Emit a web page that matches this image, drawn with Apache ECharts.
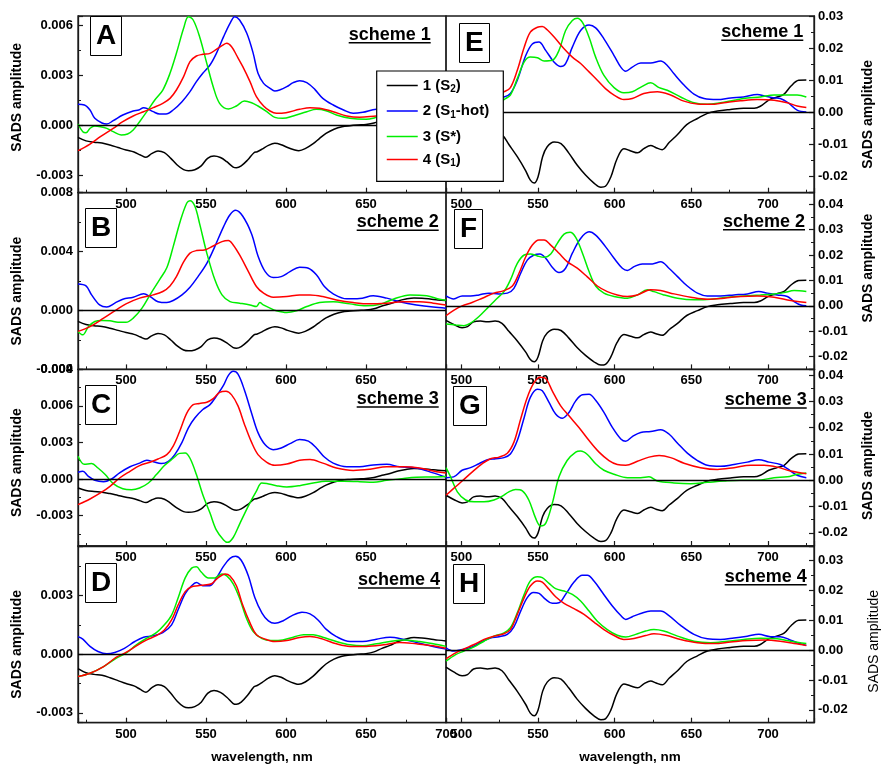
<!DOCTYPE html>
<html>
<head>
<meta charset="utf-8">
<script src="https://cdn.jsdelivr.net/npm/echarts@6/dist/echarts.min.js"></script>
<style>
  html, body { margin: 0; padding: 0; background: #fff; }
  #chart { width: 885px; height: 765px; }
</style>
</head>
<body>
<div id="chart"></div>
<script>
// ---------- series names and tick labels ----------
const seriesNames = ['1 (S2)', '2 (S1-hot)', '3 (S*)', '4 (S1)'];
const legendText = {
  '1 (S2)': '{m|1 (S}{s|2}{m|)}',
  '2 (S1-hot)': '{m|2 (S}{s|1}{m|-hot)}',
  '3 (S*)': '{m|3 (S*)}',
  '4 (S1)': '{m|4 (S}{s|1}{m|)}'
};
const schemeNames = ['scheme 1', 'scheme 2', 'scheme 3', 'scheme 4'];
const panelTags = ['A', 'B', 'C', 'D', 'E', 'F', 'G', 'H'];

const xTicksLeft = [500, 550, 600, 650];
const xTicksLeftBottom = [500, 550, 600, 650, 700];
const xTicksRight = [500, 550, 600, 650, 700];

const yTicksA = [-0.003, 0, 0.003, 0.006];
const yTicksB = [-0.004, 0, 0.004, 0.008];
const yTicksC = [-0.003, 0, 0.003, 0.006, 0.009];
const yTicksD = [-0.003, 0, 0.003];
const yTicksE = [-0.02, -0.01, 0, 0.01, 0.02, 0.03];
const yTicksF = [-0.02, -0.01, 0, 0.01, 0.02, 0.03, 0.04];
const yTicksG = [-0.02, -0.01, 0, 0.01, 0.02, 0.03, 0.04];
const yTicksH = [-0.02, -0.01, 0, 0.01, 0.02, 0.03];

// ---------- SADS spectra: [wavelength nm, amplitude] ----------
// S2 component, shared by schemes 1-4 (left column)
const leftS2 = [[470,-0.00074],[475,-0.00095],[480,-0.00103],[485,-0.00108],[490,-0.0012],[495,-0.00135],[500,-0.0015],[505,-0.00162],[509,-0.0018],[512.5,-0.00194],[516,-0.00172],[520,-0.00156],[524,-0.00166],[528,-0.002],[532,-0.0024],[536,-0.00268],[539,-0.00274],[543,-0.00268],[547,-0.00245],[551,-0.002],[555,-0.00186],[559,-0.00195],[563,-0.0022],[567,-0.00252],[569,-0.00256],[572,-0.00245],[576,-0.0021],[580,-0.00166],[582,-0.0016],[585,-0.00145],[589,-0.00122],[593,-0.0011],[597,-0.00118],[601,-0.00135],[605,-0.00148],[608,-0.00154],[612,-0.00142],[617,-0.00112],[621,-0.0008],[625,-0.0005],[630,-0.00025],[635,-0.0001],[640,-0.00004],[645,0],[650,0.00003],[655,0.00012],[660,0.0003],[665,0.00045],[670,0.00065],[675,0.00078],[680,0.00085],[685,0.00083],[690,0.00078],[695,0.00072],[700,0.00068]];

const hotA = [[470,0.00124],[474,0.0012],[477.5,0.0009],[480.5,0.0004],[485,0.00012],[488,0.00006],[492,0.00026],[498,0.0006],[504.5,0.00084],[508,0.0009],[511,0.00104],[513,0.001],[517,0.0008],[521,0.00066],[525,0.00066],[529.5,0.0009],[535,0.0014],[540,0.002],[544,0.0026],[548,0.0031],[552.5,0.0036],[556.5,0.0043],[561,0.0053],[565,0.0061],[568,0.0065],[571,0.0063],[575.5,0.0055],[579.5,0.0043],[582.5,0.0031],[586,0.0025],[590,0.0022],[593,0.00204],[596,0.0021],[600.5,0.0023],[604.5,0.00254],[608.5,0.00266],[613,0.00254],[618,0.00214],[623,0.0016],[629.5,0.0012],[636,0.0009],[642,0.0007],[648,0.00076],[656.5,0.00094],[664,0.0009],[672,0.0007],[682,0.00045],[692,0.0003],[700,0.0002]];
const starA = [[470,0.00006],[473,-0.0004],[475,-0.00046],[477.5,-0.0002],[480.5,-0.00006],[484,-0.0001],[488,-0.0002],[492,-0.0004],[497,-0.0006],[501,-0.00054],[504.5,-0.0003],[508.5,0.0002],[513,0.0008],[518,0.0015],[523,0.0021],[527.5,0.0031],[531.5,0.0043],[536,0.0058],[539,0.0065],[542,0.0063],[546,0.0053],[550.5,0.0037],[554.5,0.0023],[558.5,0.0013],[564,0.00096],[569,0.00114],[574,0.00144],[578.5,0.00134],[582.5,0.00114],[588,0.0008],[593,0.00046],[598,0.0004],[604.5,0.00054],[613,0.0008],[619,0.00094],[625,0.00086],[631.5,0.0006],[640,0.0004],[650,0.00034],[656.5,0.00046],[665,0.0007],[677,0.001],[688,0.00095],[700,0.0007]];
const s1A = [[470,-0.00154],[477.5,-0.00114],[484,-0.0007],[492,-0.0002],[498,0.0002],[504.5,0.00054],[511,0.0008],[517,0.00104],[523,0.0013],[527.5,0.0016],[531.5,0.0021],[536,0.0029],[540,0.0038],[544,0.00414],[548,0.00424],[552.5,0.0043],[556.5,0.00454],[560,0.00476],[563,0.0049],[566,0.0047],[569,0.0042],[573,0.0035],[577.5,0.0026],[581.5,0.0017],[586,0.00114],[590,0.00084],[594,0.0007],[600,0.00074],[608.5,0.00094],[615,0.00104],[621,0.001],[629.5,0.0008],[638,0.00054],[646,0.00046],[656.5,0.00054],[667,0.0006],[680,0.0006],[690,0.0005],[700,0.0004]];

const hotB = [[470,0.0018],[475,0.00167],[478.5,0.00106],[483.5,0.00038],[488,0.00023],[493,0.0005],[498,0.00077],[504.5,0.0009],[511,0.00113],[515,0.00095],[520,0.0006],[525.5,0.00054],[529.5,0.00068],[535,0.00106],[540,0.00158],[545,0.0023],[550.5,0.0032],[555.5,0.00434],[561,0.0057],[565,0.0065],[568.5,0.0068],[573,0.0064],[578.5,0.0052],[582.5,0.0037],[587,0.00264],[592,0.00224],[597,0.0023],[602.5,0.00264],[608.5,0.00294],[614,0.00287],[619,0.00242],[624,0.00163],[629.5,0.00113],[638,0.00079],[646,0.00081],[654.5,0.001],[663,0.00084],[671,0.0006],[681.5,0.00038],[692,0.00023],[700,0.00016]];
const starB = [[470,-0.00142],[473,-0.00165],[476.5,-0.0011],[480.5,-0.00075],[485,-0.00068],[490,-0.0007],[495,-0.0008],[500,-0.0008],[504.5,-0.00052],[510,0.00016],[515,0.00106],[521,0.0021],[525.5,0.0029],[529.5,0.00434],[534,0.0061],[538,0.0073],[540,0.00746],[543,0.0071],[546,0.0059],[550.5,0.0039],[555.5,0.0021],[560,0.00106],[565,0.0006],[571,0.0005],[577.5,0.00038],[581.5,0.00027],[583.7,0.00054],[585.8,0.00038],[590,0.00016],[594,-0.00002],[600.5,-0.00014],[606.5,-0.00002],[613,0.00027],[621,0.00054],[629.5,0.0006],[640,0.00045],[650,0.00032],[659,0.00043],[667,0.00077],[677.5,0.00106],[688,0.001],[696,0.00077],[700,0.0007]];
const s1B = [[470,-0.00142],[477.5,-0.0011],[486,-0.00052],[494,0.00005],[500,0.00045],[508.5,0.00084],[517,0.00106],[523,0.00129],[527.5,0.00167],[531.5,0.0023],[536,0.0033],[540,0.0039],[544,0.00407],[549,0.00411],[554.5,0.00438],[560,0.00468],[564,0.00475],[567,0.00445],[571,0.00377],[576.5,0.00264],[581.5,0.00163],[586,0.00118],[592,0.0009],[600.5,0.00095],[608.5,0.00106],[615,0.00106],[623,0.00095],[631.5,0.00072],[642,0.00054],[652.5,0.00045],[663,0.0005],[673,0.0006],[683.5,0.0006],[692,0.0005],[700,0.00038]];

const hotC = [[470,0.00055],[473,0.00063],[476.5,0.00022],[480.5,-0.00011],[486,-0.00022],[491,0],[496,0.0005],[502.5,0.001],[508.5,0.0013],[513,0.00153],[517,0.00142],[522,0.00126],[526.5,0.00145],[530.5,0.002],[535,0.003],[539,0.0042],[543,0.005],[548,0.0057],[552.5,0.0061],[556.5,0.0068],[561,0.0077],[564,0.0085],[567,0.00883],[570,0.0086],[574,0.0073],[578.5,0.0054],[582.5,0.0038],[587,0.0028],[592,0.0024],[597,0.00254],[602.5,0.0029],[608.5,0.00323],[614,0.0031],[619,0.00254],[624,0.0018],[629.5,0.0013],[638,0.001],[646,0.001],[654.5,0.00115],[663,0.0012],[671,0.001],[681.5,0.0009],[692,0.0005],[700,0.00015]];
const starC = [[470,0.00186],[474,0.0012],[478.5,0.00126],[482.5,0.0009],[487,0.00036],[492,-0.00038],[498,-0.0008],[503.5,-0.00088],[508.5,-0.00074],[514,-0.00033],[519,0.00036],[524,0.0011],[529.5,0.0017],[533.5,0.0021],[537,0.00213],[540,0.0017],[544,0.00036],[548,-0.0013],[552.5,-0.0028],[556.5,-0.0042],[561,-0.005],[563.5,-0.0052],[567,-0.0048],[571,-0.0037],[576.5,-0.0022],[581.5,-0.001],[584.8,-0.00033],[588,-0.00038],[594,-0.00055],[600.5,-0.00066],[608.5,-0.00055],[617,-0.00033],[625,-0.00019],[636,-0.00019],[646,-0.00022],[654.5,-0.00027],[663,-0.00011],[671,0],[681.5,0.00014],[692,0.00016],[700,0.0002]];
const s1C = [[470,-0.0021],[477.5,-0.00164],[484,-0.00115],[490,-0.0006],[496,0.00008],[502.5,0.00063],[508.5,0.0011],[515,0.00137],[520,0.00164],[525.5,0.002],[529.5,0.0027],[533.5,0.0039],[538,0.0054],[542,0.0061],[546,0.0062],[550.5,0.0063],[554.5,0.0066],[558.5,0.0071],[562.5,0.0072],[566,0.0069],[570,0.006],[574,0.0045],[578.5,0.003],[582.5,0.002],[588,0.00137],[593,0.00112],[600.5,0.00123],[608.5,0.00153],[615,0.00159],[623,0.0013],[631.5,0.0009],[642,0.0007],[652.5,0.0008],[663,0.001],[673,0.001],[683.5,0.0009],[694,0.0006],[700,0.0005]];

const hotD = [[470,0.0009],[473,0.00077],[477.5,0.0004],[482.5,0.00014],[488,0.00002],[493,0.00009],[499,0.0003],[505.5,0.00065],[511,0.00087],[517,0.00094],[523,0.0011],[528.5,0.0015],[532.5,0.00226],[537,0.0031],[541,0.0035],[544,0.00366],[548,0.0035],[552.5,0.0035],[556.5,0.0039],[561,0.0045],[565,0.0049],[568.5,0.005],[572,0.0048],[576.5,0.004],[580.5,0.0029],[585,0.0021],[589,0.0017],[593,0.00158],[598,0.0017],[603.5,0.00196],[610,0.00214],[615,0.00206],[620,0.00175],[625,0.00128],[631.5,0.0009],[640,0.00065],[648,0.00065],[656.5,0.00077],[665,0.00087],[673,0.00077],[683.5,0.00056],[694,0.00036],[700,0.00026]];
const starD = [[470,-0.00114],[477.5,-0.00097],[486,-0.00063],[494,-0.0002],[500,0.00005],[506.5,0.00048],[513,0.00082],[519,0.0011],[524,0.0015],[528.5,0.002],[532.5,0.00286],[537,0.0039],[541,0.0044],[544,0.00447],[547,0.0042],[551.5,0.0039],[555.5,0.0039],[560,0.0041],[563,0.004],[567,0.0036],[571,0.00286],[575.5,0.0018],[579.5,0.00116],[585,0.0008],[591,0.0007],[598,0.00073],[604.5,0.00087],[611,0.001],[617,0.001],[623,0.00087],[631.5,0.00065],[640,0.00048],[648,0.00043],[656.5,0.00053],[665,0.00065],[673,0.00073],[683.5,0.00065],[692,0.00053],[700,0.0004]];
const s1D = [[470,-0.00114],[477.5,-0.00097],[486,-0.00063],[494,-0.00015],[500,0.00009],[506.5,0.00043],[513,0.00073],[519,0.00095],[524,0.00124],[528.5,0.00175],[532.5,0.0025],[537,0.0032],[541,0.00345],[545,0.0035],[549,0.00354],[553.5,0.0036],[557.5,0.0039],[562,0.0041],[565,0.004],[569,0.0035],[573,0.0025],[577.5,0.0016],[581.5,0.001],[587,0.00077],[593,0.00065],[600.5,0.0007],[608.5,0.00085],[615,0.0009],[623,0.00077],[631.5,0.00053],[640,0.0004],[650,0.0004],[661,0.00048],[671,0.0006],[681.5,0.00053],[692,0.00043],[700,0.0003]];

// S2 component, shared by schemes 1-4 (right column)
const rightS2 = [[490,-0.0057],[495,-0.0073],[500.5,-0.0086],[504,-0.0082],[508,-0.0063],[512.5,-0.006],[517,-0.0063],[522,-0.006],[526.5,-0.0069],[531,-0.01],[536.5,-0.0138],[542,-0.0182],[545,-0.0211],[547.5,-0.022],[550,-0.0201],[553,-0.0138],[556,-0.0107],[560.5,-0.0092],[565,-0.0097],[570,-0.0126],[575.5,-0.0164],[581,-0.0195],[586.5,-0.022],[591,-0.0233],[594,-0.023],[597.5,-0.0201],[601.5,-0.0145],[606,-0.0113],[610.5,-0.012],[615,-0.0126],[619,-0.0113],[623.5,-0.0103],[627,-0.011],[631,-0.0116],[635.5,-0.0094],[641,-0.0069],[647,-0.0038],[654,-0.0019],[660.5,-0.0003],[667,0.0004],[675.5,0.0009],[684,0.0013],[691,0.0013],[695,0.0019],[700.5,0.0038],[706,0.0048],[710.5,0.0057],[715,0.0082],[720,0.01],[725,0.0101]];

const hotE = [[490,0.004],[500,0.0035],[510,0.004],[520,0.0045],[527.8,0.0048],[532,0.0059],[536.5,0.01],[542,0.0177],[546.3,0.0213],[550.6,0.0219],[555,0.0193],[560.4,0.0157],[564.8,0.0143],[568,0.0152],[572.4,0.0203],[577.8,0.0255],[583.3,0.0272],[587.6,0.0263],[593,0.0229],[599.6,0.0177],[604,0.0141],[607.2,0.0128],[611.5,0.0141],[617,0.0154],[623.5,0.0154],[630,0.016],[634.3,0.0146],[638.7,0.012],[645.2,0.0085],[651.7,0.0057],[658.3,0.0043],[667,0.004],[675.6,0.0045],[684,0.0048],[693,0.0056],[698.5,0.005],[704,0.0045],[708,0.0043],[713.7,0.0028],[719,0.0007],[725,0.0001]];
const starE = [[490,-0.006],[500,-0.007],[510,-0.003],[520,0.001],[527.8,0.004],[532,0.0054],[536.5,0.0105],[541,0.0157],[545,0.0172],[549.6,0.017],[554,0.016],[559.3,0.0162],[563.7,0.0193],[568,0.0255],[572.4,0.0286],[575.7,0.0293],[579,0.028],[583.3,0.0234],[587.6,0.0172],[593,0.0115],[599.6,0.0077],[606,0.0061],[611.5,0.0064],[618,0.0081],[623.5,0.0092],[629,0.0077],[634.3,0.0069],[643,0.0048],[651.7,0.003],[660.4,0.0025],[669,0.003],[678,0.0038],[686.5,0.0045],[695,0.0048],[704,0.0054],[712.6,0.0054],[719,0.0054],[725,0.0048]];
const s1E = [[490,-0.003],[500,0],[510,0.003],[520,0.005],[527.8,0.0064],[532,0.0077],[536.5,0.0131],[541,0.0203],[545,0.025],[549.6,0.0265],[552.8,0.0267],[556,0.0257],[561.5,0.0229],[567,0.0198],[572.4,0.0172],[577.8,0.0152],[583.3,0.0126],[588.7,0.01],[594,0.0074],[599.6,0.0054],[606,0.004],[611.5,0.0043],[619,0.0059],[627.8,0.0064],[636.5,0.0054],[645.2,0.0035],[654,0.0026],[662.6,0.0025],[671.3,0.003],[682,0.0036],[693,0.004],[704,0.0038],[712.6,0.003],[719,0.002],[725,0.0015]];

const hotF = [[490,0.0039],[495,0.0027],[500.5,0.0039],[506,0.0039],[511.5,0.0043],[518,0.005],[524.5,0.0047],[530,0.005],[534.3,0.0069],[538.7,0.0128],[543,0.018],[547.4,0.02],[551.3,0.0204],[555,0.0187],[559.3,0.0152],[563.7,0.0131],[568,0.0148],[572.4,0.0207],[577.8,0.0265],[583.3,0.0291],[587.6,0.0278],[594,0.0233],[599.6,0.0187],[605,0.0148],[608.3,0.0139],[612.6,0.0154],[618,0.0165],[624.6,0.0165],[630,0.0173],[635.4,0.0148],[641,0.0115],[647.4,0.0078],[654,0.005],[660.4,0.0039],[669,0.0039],[677.8,0.0043],[686.5,0.0047],[694,0.0056],[699.6,0.005],[706,0.0043],[712.6,0.0037],[717,0.0017],[721.3,0.0003],[725,0]];
const starF = [[490,-0.0071],[496.3,-0.0075],[501.7,-0.0078],[506,-0.0068],[511.5,-0.0042],[517,-0.0009],[522.4,0.0024],[527.8,0.0056],[532,0.0102],[536.5,0.0167],[541,0.02],[545,0.0204],[549.6,0.0196],[554,0.0191],[558.3,0.0204],[562.6,0.0246],[567,0.0282],[570.9,0.0289],[574.6,0.0269],[579,0.0207],[583.3,0.0135],[587.6,0.0078],[593,0.005],[599.6,0.0037],[608.3,0.003],[614.8,0.0043],[621.3,0.0063],[625.6,0.0056],[632,0.0043],[641,0.003],[651.7,0.0024],[662.6,0.0026],[673.5,0.0034],[684.3,0.0039],[695,0.0043],[704,0.0047],[710.4,0.0052],[717,0.006],[725,0.0056]];
const s1F = [[490,-0.0039],[495,-0.0018],[500.5,0],[507,0.0013],[513.7,0.003],[521.3,0.005],[527.8,0.006],[533.3,0.0078],[537.6,0.0128],[542,0.0193],[546.3,0.0239],[550.6,0.0259],[554,0.0259],[558.3,0.0239],[563.7,0.0207],[569,0.0174],[575.6,0.0148],[582,0.0115],[588.7,0.0078],[595.2,0.0056],[601.7,0.0043],[608.3,0.0037],[614.8,0.0043],[623.5,0.0063],[630,0.006],[638.7,0.0047],[649.6,0.0034],[660.4,0.0026],[671.3,0.003],[682,0.0037],[693,0.0039],[704,0.0034],[714.8,0.0021],[725,0.0013]];

const hotG = [[490,0.001],[495,0.0013],[500.5,0.0038],[506,0.0048],[511.5,0.0063],[517,0.0078],[522.4,0.0082],[527.8,0.0086],[532,0.01],[536.5,0.0151],[541,0.0239],[545,0.0315],[549.6,0.0346],[552.8,0.034],[557.2,0.0296],[561.5,0.0252],[565.9,0.0236],[570.2,0.0258],[574.6,0.0302],[578.9,0.0325],[583.3,0.0327],[587.6,0.0304],[593,0.0258],[598.5,0.0201],[604,0.0157],[607.2,0.0148],[611.5,0.0166],[617,0.0182],[623.5,0.0185],[630,0.0192],[635.4,0.0176],[641,0.0141],[647.4,0.0103],[654,0.0075],[660.4,0.0057],[669,0.0053],[677.8,0.006],[686.5,0.0069],[694,0.0078],[700.6,0.0069],[708,0.006],[712.6,0.0044],[719,0.0019],[725,0.001]];
const starG = [[490,0.0048],[493,0.0013],[497.4,-0.0044],[502.8,-0.0075],[508.3,-0.0082],[514.8,-0.0082],[521.3,-0.0075],[526.7,-0.006],[531,-0.0044],[535.4,-0.0035],[539.8,-0.004],[544,-0.0075],[548.5,-0.0145],[551.7,-0.0174],[555,-0.0164],[559.3,-0.0088],[563.7,0.0013],[569,0.0075],[574.6,0.0107],[577.8,0.0111],[582.2,0.0098],[587.6,0.0063],[593,0.0038],[599.6,0.0023],[608.3,0.001],[617,0.001],[622.4,0.0013],[627.8,-0.0003],[638.7,-0.001],[649.6,-0.0013],[660.4,-0.0008],[671.3,-0.0003],[682,0],[693,0],[704,0.001],[712.6,0.0013],[719,0.0023],[725,0.0028]];
const s1G = [[490,-0.0057],[495,-0.0031],[500.5,-0.0003],[507,0.0031],[513.7,0.0063],[519,0.0082],[524.6,0.0088],[530,0.0103],[534.3,0.0145],[538.7,0.0233],[543,0.0315],[547.4,0.0371],[551.3,0.0392],[555,0.0387],[559.3,0.034],[564.8,0.0283],[570.2,0.0245],[576.7,0.0201],[583.3,0.0151],[589.8,0.0107],[596.3,0.0075],[601.7,0.006],[607.2,0.0057],[614.8,0.0072],[622.4,0.0088],[629,0.0094],[636.5,0.0086],[645.2,0.0065],[656,0.0048],[667,0.0041],[677.8,0.0048],[688.7,0.0057],[697.4,0.0057],[706,0.005],[714.8,0.0035],[725,0.0025]];

const hotH = [[490,0.0008],[495,-0.0003],[500.5,0.0002],[507,0.0011],[513.7,0.003],[519,0.0041],[524.6,0.0045],[530,0.0053],[534.3,0.0078],[538.7,0.0131],[543,0.0176],[547,0.0193],[550.7,0.019],[555,0.017],[559.3,0.0157],[563.7,0.0159],[568,0.0187],[573.5,0.0228],[578.9,0.0251],[582.2,0.0251],[586.5,0.0232],[592,0.0193],[598.5,0.0148],[604,0.0116],[607.2,0.0103],[611.5,0.0112],[617,0.0123],[623.5,0.0131],[630,0.0131],[635.4,0.0116],[643,0.0083],[651.7,0.0053],[660.4,0.0038],[669,0.0036],[677.8,0.0041],[686.5,0.0047],[694,0.0053],[701.7,0.0045],[708,0.0045],[713.7,0.0036],[719,0.0025],[725,0.0016]];
const starH = [[490,-0.0037],[496.3,-0.0015],[501.7,-0.0003],[508.3,0.0011],[514.8,0.003],[521.3,0.0047],[527.8,0.0058],[532,0.0075],[536.5,0.0125],[541,0.0187],[545,0.0232],[549.6,0.0246],[552.8,0.0243],[557.2,0.0224],[561.5,0.0206],[567,0.0198],[572.4,0.0187],[577.8,0.0165],[583.3,0.0131],[588.7,0.0097],[595.2,0.0069],[601.7,0.005],[607.2,0.0044],[613.7,0.0053],[620.2,0.0064],[625.6,0.0069],[632,0.0064],[641,0.0047],[651.7,0.003],[662.6,0.0025],[673.5,0.003],[684.3,0.0036],[695,0.004],[706,0.0038],[714.8,0.003],[725,0.0022]];
const s1H = [[490,-0.0029],[496.3,-0.0009],[501.7,0.0004],[508.3,0.0019],[514.8,0.0036],[521.3,0.0047],[527.8,0.0055],[532,0.0069],[536.5,0.012],[541,0.0176],[545,0.0215],[549.6,0.0232],[552.8,0.0228],[557.2,0.0204],[561.5,0.0179],[567,0.0157],[573.5,0.0139],[580,0.012],[586.5,0.0094],[593,0.0069],[599.6,0.0049],[606,0.0036],[612.6,0.0039],[620.2,0.0049],[625.6,0.0055],[633.3,0.005],[643,0.0036],[654,0.0025],[664.8,0.0022],[675.6,0.0027],[686.5,0.0032],[697.4,0.0034],[708,0.003],[717,0.0022],[725,0.0016]];

// ---------- layout ----------
const FONT = "'Liberation Sans', Arial, Helvetica, sans-serif";
const FRAME = '#1a1a1a';
const COLORS = ['#000000', '#0000ff', '#00ee00', '#ff0000'];
const ROW_TOP = [16, 192.7, 369.3, 546];
const ROW_H = 176.7;
const COL_LEFT = [78, 446];
const COL_W = 368;
const X_RANGE = [[470, 700], [490, 730]];

// per-panel axis setup; nameShift moves the rotated y-axis title along the axis (px, + = down)
const panels = [
  { col: 0, row: 0, yRange: [-0.00406, 0.00654], yTicks: yTicksA, curves: [leftS2, hotA, starA, s1A], tagPos: [90, 16], schemeRight: 430.7, schemeBase: 40.7, nameShift: -7 },
  { col: 0, row: 1, yRange: [-0.004, 0.008], yTicks: yTicksB, curves: [leftS2, hotB, starB, s1B], tagPos: [85, 208], schemeRight: 438.7, schemeBase: 228.3, nameShift: 10 },
  { col: 0, row: 2, yRange: [-0.0055, 0.009], yTicks: yTicksC, curves: [leftS2, hotC, starC, s1C], tagPos: [85, 385], schemeRight: 438.7, schemeBase: 405, nameShift: 5 },
  { col: 0, row: 3, yRange: [-0.0035, 0.00553], yTicks: yTicksD, curves: [leftS2, hotD, starD, s1D], tagPos: [85, 563], schemeRight: 440, schemeBase: 586, nameShift: 10 },
  { col: 1, row: 0, yRange: [-0.025, 0.03], yTicks: yTicksE, curves: [rightS2, hotE, starE, s1E], tagPos: [459, 23], schemeRight: 803.3, schemeBase: 38.3, nameShift: 10 },
  { col: 1, row: 1, yRange: [-0.025, 0.0445], yTicks: yTicksF, curves: [rightS2, hotF, starF, s1F], tagPos: [454, 209], schemeRight: 805, schemeBase: 227.7, nameShift: -13 },
  { col: 1, row: 2, yRange: [-0.025, 0.0422], yTicks: yTicksG, curves: [rightS2, hotG, starG, s1G], tagPos: [453, 386], schemeRight: 806.7, schemeBase: 406, nameShift: 8 },
  { col: 1, row: 3, yRange: [-0.0243, 0.0349], yTicks: yTicksH, curves: [rightS2, hotH, starH, s1H], tagPos: [453, 564], schemeRight: 806.7, schemeBase: 582.7, nameShift: 7, lightName: true }
];

function hasTick(list, v) {
  return list.some(t => Math.abs(t - v) < 1e-9);
}

const grid = [], xAxis = [], yAxis = [], series = [], title = [], graphic = [];

panels.forEach((p, i) => {
  const left = COL_LEFT[p.col];
  const top = ROW_TOP[p.row];
  grid.push({
    left: left, top: top, width: COL_W, height: ROW_H,
    show: true, borderColor: FRAME, borderWidth: 1.3, backgroundColor: 'transparent',
    containLabel: false, outerBoundsMode: 'none'
  });

  const xr = X_RANGE[p.col];
  const xt = p.col === 1 ? xTicksRight : (p.row === 3 ? xTicksLeftBottom : xTicksLeft);
  const bottomRow = p.row === 3;
  // labelled x axis, major ticks every 50 nm
  xAxis.push({
    gridIndex: i, type: 'value', position: 'bottom', min: xr[0], max: xr[1],
    minInterval: 50, maxInterval: 50,
    splitLine: { show: false },
    axisLine: { show: true, onZero: false, lineStyle: { color: FRAME, width: 1.3 } },
    axisTick: { show: true, inside: true, length: 5, lineStyle: { color: FRAME, width: 1.2 } },
    axisLabel: {
      margin: 5, color: '#000', fontFamily: FONT, fontWeight: 'bold', fontSize: 13,
      formatter: v => hasTick(xt, v) ? String(Math.round(v)) : ''
    },
    name: bottomRow ? 'wavelength, nm' : '',
    nameLocation: 'middle', nameGap: 28,
    nameTextStyle: { color: '#000', fontFamily: FONT, fontWeight: 'bold', fontSize: 13.5 }
  });
  // minor x ticks every 25 nm
  xAxis.push({
    gridIndex: i, type: 'value', position: 'bottom', min: xr[0], max: xr[1],
    minInterval: 25, maxInterval: 25,
    splitLine: { show: false },
    axisLine: { show: false, onZero: false },
    axisTick: { show: true, inside: true, length: 3, lineStyle: { color: FRAME, width: 1 } },
    axisLabel: { show: false }
  });

  const yt = p.yTicks;
  const step = Math.round((yt[1] - yt[0]) * 1e6) / 1e6;
  const dec = p.col === 0 ? 3 : 2;
  const side = p.col === 0 ? 'left' : 'right';
  const shift = p.nameShift;
  const namePad = shift >= 0 ? [0, 2 * shift, 0, 0] : [0, 0, 0, -2 * shift];
  yAxis.push({
    gridIndex: i, type: 'value', position: side, min: p.yRange[0], max: p.yRange[1],
    minInterval: step, maxInterval: step,
    splitLine: { show: false },
    axisLine: { show: true, onZero: false, lineStyle: { color: FRAME, width: 1.3 } },
    axisTick: { show: true, inside: true, length: 5, lineStyle: { color: FRAME, width: 1.2 } },
    axisLabel: {
      margin: p.col === 0 ? 5 : 4, color: '#000', fontFamily: FONT, fontWeight: 'bold', fontSize: 13,
      formatter: v => hasTick(yt, v) ? (Math.abs(v) < 1e-12 ? 0 : v).toFixed(dec) : ''
    },
    name: 'SADS amplitude', nameLocation: 'middle', nameRotate: 90,
    nameGap: p.col === 0 ? 54 : (p.lightName ? 53 : 47),
    nameTextStyle: {
      color: '#000', fontFamily: FONT, fontSize: 14,
      fontWeight: p.lightName ? 'normal' : 'bold', padding: namePad
    }
  });
  // minor y ticks at half steps
  yAxis.push({
    gridIndex: i, type: 'value', position: side, min: p.yRange[0], max: p.yRange[1],
    minInterval: step / 2, maxInterval: step / 2,
    splitLine: { show: false },
    axisLine: { show: false, onZero: false },
    axisTick: { show: true, inside: true, length: 3, lineStyle: { color: FRAME, width: 1 } },
    axisLabel: { show: false }
  });

  p.curves.forEach((d, k) => {
    const s = {
      name: seriesNames[k], type: 'line',
      xAxisIndex: 2 * i, yAxisIndex: 2 * i,
      data: d, symbol: 'none', showSymbol: false, smooth: 0.35,
      lineStyle: { color: COLORS[k], width: 1.5 },
      itemStyle: { color: COLORS[k] },
      emphasis: { disabled: true }, silent: true, animation: false, z: 3
    };
    if (k === 0) {
      s.markLine = {
        silent: true, symbol: ['none', 'none'], animation: false,
        label: { show: false },
        lineStyle: { color: '#000', width: 1.3, type: 'solid' },
        emphasis: { disabled: true },
        data: [{ yAxis: 0 }]
      };
    }
    series.push(s);
  });

  // panel letter box
  title.push({
    text: panelTags[i], left: p.tagPos[0], top: p.tagPos[1],
    padding: [5, 6, 5, 6], borderColor: '#000', borderWidth: 1, backgroundColor: '#fff', z: 40,
    textStyle: { color: '#000', fontFamily: FONT, fontWeight: 'bold', fontSize: 28, lineHeight: 30 }
  });

  // underlined scheme caption
  graphic.push({
    type: 'text', x: p.schemeRight, y: p.schemeBase - 6, z: 45,
    style: {
      text: schemeNames[p.row], font: 'bold 18px ' + FONT, fill: '#000',
      align: 'right', textAlign: 'right', verticalAlign: 'middle', textVerticalAlign: 'middle'
    }
  });
  graphic.push({
    type: 'rect', z: 45,
    shape: { x: p.schemeRight - 82, y: p.schemeBase + 1.2, width: 82, height: 1.6 },
    style: { fill: '#000' }
  });
});

// legend frame
graphic.push({
  type: 'rect', z: 50,
  shape: { x: 376.7, y: 71, width: 126.6, height: 110.3 },
  style: { fill: '#fff', stroke: '#000', lineWidth: 1.2 }
});

const legendTextStyle = {
  color: '#000', fontFamily: FONT, fontWeight: 'bold', fontSize: 15,
  rich: {
    m: { color: '#000', fontFamily: FONT, fontWeight: 'bold', fontSize: 15, lineHeight: 18 },
    s: { color: '#000', fontFamily: FONT, fontWeight: 'bold', fontSize: 10, lineHeight: 8, verticalAlign: 'bottom' }
  }
};
// legend keys are plain line segments (no marker)
const legendBase = {
  orient: 'vertical', left: 386, itemWidth: 31, itemHeight: 14, itemGap: 9,
  padding: 0, selectedMode: false, z: 60,
  itemStyle: { color: 'rgba(0,0,0,0)', borderColor: 'rgba(0,0,0,0)', borderWidth: 0, opacity: 0 },
  lineStyle: { width: 1.5 },
  formatter: n => legendText[n], textStyle: legendTextStyle
};

const option = {
  backgroundColor: '#fff',
  animation: false,
  grid, xAxis, yAxis, series, title, graphic,
  legend: [
    Object.assign({}, legendBase, { data: seriesNames.slice(0, 3), top: 78 }),
    Object.assign({}, legendBase, { data: [seriesNames[3]], top: 152 })
  ]
};

const chart = echarts.init(document.getElementById('chart'), null, { renderer: 'canvas' });
chart.setOption(option);
</script>
</body>
</html>
